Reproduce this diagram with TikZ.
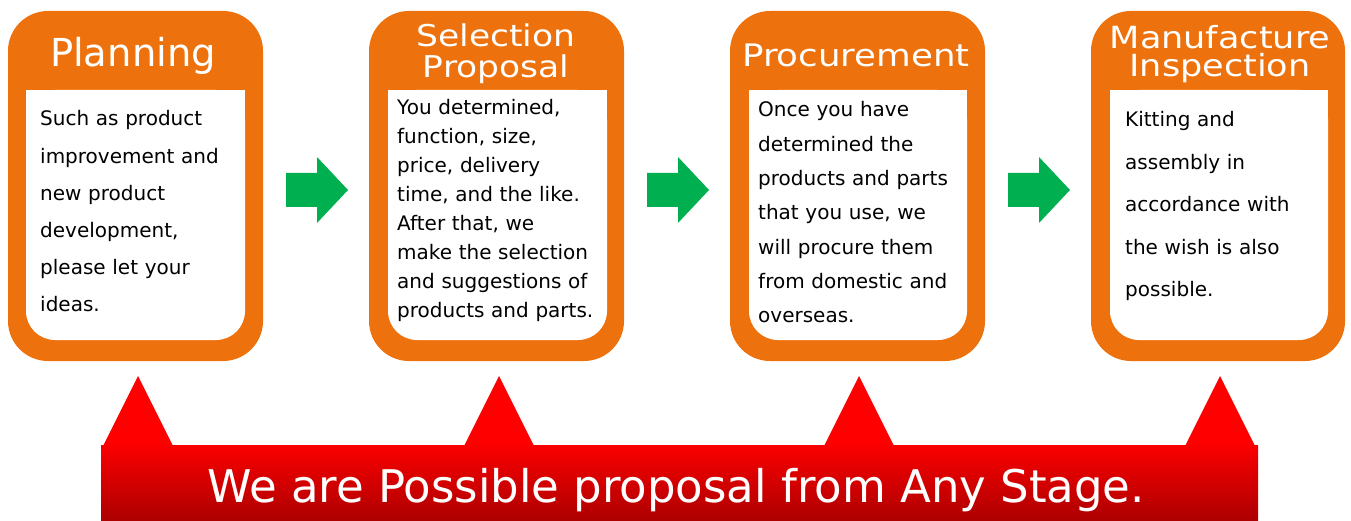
\documentclass[tikz,border=0pt]{standalone}
\usepackage{fontspec}
\setmainfont{DejaVu Sans}
\newfontfamily\widefont[FakeStretch=1.15]{DejaVu Sans}
\usepackage{tikz}

\definecolor{cardorange}{RGB}{237,113,12}
\definecolor{arrowgreen}{RGB}{0,176,80}
\definecolor{bannertop}{RGB}{250,0,0}
\definecolor{bannerbottom}{RGB}{172,0,0}

\begin{document}
\begin{tikzpicture}[x=1pt,y=-1pt,
  card/.style={fill=cardorange,rounded corners=40pt},
  inner/.style={fill=white,rounded corners=29pt},
  heading/.style={text=white,anchor=base,align=center,text width=250pt,inner sep=0pt},
  body/.style={anchor=base west,align=left,text width=215pt,inner sep=0pt},
  greenarrow/.style={fill=arrowgreen},
  tip/.style={fill=red}]
\useasboundingbox (0,0) rectangle (1351,521);

% Planning
\fill[card] (8,11) rectangle (263,361);
\fill[inner] (26,90) rectangle (245,340);
\fill[white] (26,90) rectangle (245,200); % square top
\node[heading,font=\fontsize{38.5}{38}\selectfont] (planning) at (133,67) {Planning};
\node[body,font=\fontsize{20}{37.2}\selectfont] (planningtext) at (40,126)
  {Such as product\\improvement and\\new product\\development,\\please let your\\ideas.};

% Selection Proposal
\fill[card] (369,11) rectangle (624,361);
\fill[inner] (388,90) rectangle (607,340);
\fill[white] (388,90) rectangle (607,200);
\node[heading,font=\widefont\fontsize{30}{31}\selectfont] (selection) at (496,47) {Selection\\Proposal};
\node[body,font=\fontsize{20}{29}\selectfont] (selectiontext) at (397,115)
  {You determined,\\function, size,\\price, delivery\\time, and the like.\\After that, we\\make the selection\\and suggestions of\\products and parts.};

% Procurement
\fill[card] (730,11) rectangle (985,361);
\fill[inner] (749,90) rectangle (967,340);
\fill[white] (749,90) rectangle (967,200);
\node[heading,font=\widefont\fontsize{31}{31}\selectfont] (procurement) at (856,67) {Procurement};
\node[body,font=\fontsize{20}{34.3}\selectfont] (procurementtext) at (758,117)
  {Once you have\\determined the\\products and parts\\that you use, we\\will procure them\\from domestic and\\overseas.};

% Manufacture Inspection
\fill[card] (1091,11) rectangle (1345,361);
\fill[inner] (1110,90) rectangle (1328,340);
\fill[white] (1110,90) rectangle (1328,200);
\node[heading,font=\widefont\fontsize{30.5}{28}\selectfont] (manufacture) at (1220,49) {Manufacture\\Inspection};
\node[body,font=\fontsize{20}{42.5}\selectfont] (manufacturetext) at (1125,127)
  {Kitting and\\assembly in\\accordance with\\the wish is also\\possible.};

% green arrows between the stages
\fill[greenarrow] (286,173) -- (317,173) -- (317,157) -- (348,190) -- (317,223) -- (317,207) -- (286,207) -- cycle;
\fill[greenarrow] (647,173) -- (678,173) -- (678,157) -- (709,190) -- (678,223) -- (678,207) -- (647,207) -- cycle;
\fill[greenarrow] (1008,173) -- (1039,173) -- (1039,157) -- (1070,190) -- (1039,223) -- (1039,207) -- (1008,207) -- cycle;

% banner with its pointers
\fill[tip] (103,446) -- (138,376) -- (173,446) -- cycle;
\fill[tip] (464,446) -- (499,376) -- (534,446) -- cycle;
\fill[tip] (824,446) -- (859,376) -- (894,446) -- cycle;
\fill[tip] (1185,446) -- (1220,376) -- (1255,446) -- cycle;
\shade[top color=bannertop,bottom color=bannerbottom] (101,445) rectangle (1258,521);
\node[text=white,anchor=base,inner sep=0pt,font=\fontsize{45}{45}\selectfont] (stage) at (676,502)
  {We are Possible proposal from Any Stage.};
\end{tikzpicture}
\end{document}
